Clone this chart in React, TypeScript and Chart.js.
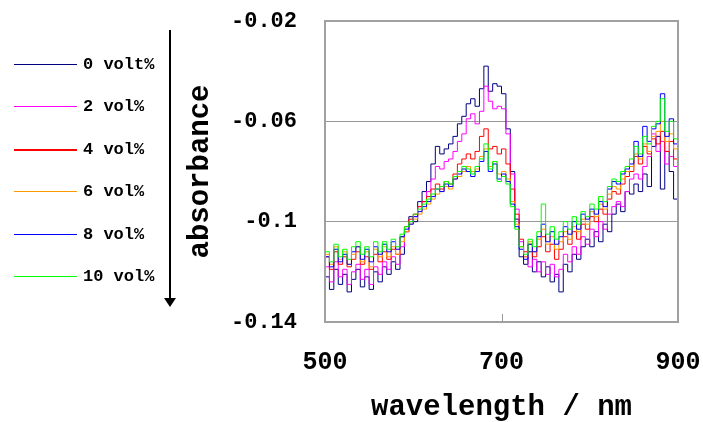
import React, { useEffect, useRef } from 'react';
import { Chart, registerables } from 'chart.js';

Chart.register(...registerables);

const FONT = '"Liberation Mono", "DejaVu Sans Mono", monospace';

const wavelengths = [
  500, 505, 510, 515, 520, 525, 530, 535, 540, 545,
  550, 555, 560, 565, 570, 575, 580, 585, 590, 595,
  600, 605, 610, 615, 620, 625, 630, 635, 640, 645,
  650, 655, 660, 665, 670, 675, 680, 685, 690, 695,
  700, 705, 710, 715, 720, 725, 730, 735, 740, 745,
  750, 755, 760, 765, 770, 775, 780, 785, 790, 795,
  800, 805, 810, 815, 820, 825, 830, 835, 840, 845,
  850, 855, 860, 865, 870, 875, 880, 885, 890, 895,
  900,
];

const vol0 = [
  -0.122, -0.127, -0.119, -0.125, -0.121, -0.128, -0.123, -0.119, -0.126, -0.122,
  -0.127, -0.120, -0.124, -0.118, -0.121, -0.116, -0.119, -0.113, -0.104, -0.098,
  -0.100, -0.092, -0.088, -0.084, -0.077, -0.070, -0.073, -0.071, -0.069, -0.066,
  -0.061, -0.058, -0.053, -0.051, -0.054, -0.047, -0.038, -0.048, -0.045, -0.046,
  -0.049, -0.063, -0.080, -0.099, -0.114, -0.117, -0.112, -0.120, -0.116, -0.122,
  -0.118, -0.124, -0.121, -0.128, -0.117, -0.120, -0.113, -0.115, -0.110, -0.107,
  -0.110, -0.104, -0.108, -0.101, -0.104, -0.097, -0.093, -0.096, -0.088, -0.089,
  -0.085, -0.088, -0.081, -0.086, -0.070, -0.066, -0.087, -0.072, -0.080, -0.091,
  -0.078,
];

const vol2 = [
  -0.118, -0.124, -0.116, -0.122, -0.119, -0.125, -0.120, -0.117, -0.123, -0.119,
  -0.125, -0.118, -0.121, -0.116, -0.119, -0.114, -0.117, -0.110, -0.104, -0.100,
  -0.098, -0.094, -0.092, -0.088, -0.083, -0.078, -0.079, -0.076, -0.075, -0.072,
  -0.068, -0.065, -0.059, -0.057, -0.061, -0.056, -0.046, -0.052, -0.055, -0.054,
  -0.055, -0.065, -0.081, -0.095, -0.108, -0.114, -0.118, -0.115, -0.120, -0.116,
  -0.121, -0.117, -0.122, -0.119, -0.113, -0.116, -0.110, -0.113, -0.106, -0.109,
  -0.103, -0.106, -0.100, -0.103, -0.097, -0.094, -0.092, -0.094, -0.088, -0.083,
  -0.081, -0.083, -0.078, -0.074, -0.065, -0.072, -0.068, -0.077, -0.074, -0.078,
  -0.075,
];

const vol4 = [
  -0.114, -0.119, -0.112, -0.117, -0.114, -0.118, -0.115, -0.112, -0.117, -0.114,
  -0.119, -0.113, -0.116, -0.112, -0.115, -0.111, -0.113, -0.106, -0.102, -0.099,
  -0.097, -0.094, -0.092, -0.090, -0.087, -0.085, -0.087, -0.084, -0.085, -0.081,
  -0.077, -0.075, -0.073, -0.075, -0.072, -0.066, -0.063, -0.071, -0.070, -0.073,
  -0.071, -0.077, -0.087, -0.097, -0.107, -0.112, -0.109, -0.114, -0.110, -0.106,
  -0.112, -0.109, -0.115, -0.111, -0.106, -0.109, -0.104, -0.107, -0.101, -0.103,
  -0.098, -0.100, -0.095, -0.097, -0.091, -0.088, -0.089, -0.085, -0.082, -0.080,
  -0.074, -0.077, -0.070, -0.073, -0.067, -0.069, -0.064, -0.072, -0.068, -0.075,
  -0.070,
];

const vol6 = [
  -0.113, -0.117, -0.110, -0.115, -0.112, -0.117, -0.113, -0.110, -0.116, -0.112,
  -0.118, -0.111, -0.114, -0.110, -0.114, -0.110, -0.113, -0.108, -0.104, -0.101,
  -0.099, -0.097, -0.095, -0.093, -0.091, -0.089, -0.088, -0.086, -0.087, -0.083,
  -0.082, -0.080, -0.078, -0.080, -0.079, -0.074, -0.071, -0.078, -0.076, -0.081,
  -0.080, -0.083, -0.092, -0.101, -0.110, -0.114, -0.108, -0.112, -0.107, -0.103,
  -0.109, -0.106, -0.111, -0.108, -0.104, -0.107, -0.102, -0.104, -0.099, -0.101,
  -0.096, -0.098, -0.093, -0.095, -0.089, -0.086, -0.087, -0.083, -0.080, -0.078,
  -0.073, -0.075, -0.069, -0.072, -0.066, -0.064, -0.060, -0.068, -0.065, -0.071,
  -0.066,
];

const vol8 = [
  -0.114, -0.118, -0.111, -0.116, -0.113, -0.117, -0.112, -0.110, -0.115, -0.111,
  -0.116, -0.110, -0.113, -0.109, -0.112, -0.108, -0.111, -0.106, -0.103, -0.101,
  -0.098, -0.096, -0.094, -0.092, -0.090, -0.087, -0.088, -0.085, -0.086, -0.083,
  -0.081, -0.079, -0.080, -0.082, -0.080, -0.076, -0.072, -0.080, -0.077, -0.083,
  -0.081, -0.084, -0.093, -0.102, -0.111, -0.115, -0.109, -0.112, -0.106, -0.101,
  -0.108, -0.104, -0.109, -0.106, -0.102, -0.105, -0.100, -0.103, -0.097, -0.099,
  -0.095, -0.097, -0.092, -0.094, -0.087, -0.084, -0.085, -0.081, -0.079, -0.077,
  -0.068, -0.074, -0.062, -0.068, -0.063, -0.061, -0.049, -0.066, -0.059, -0.069,
  -0.060,
];

const vol10 = [
  -0.112, -0.116, -0.109, -0.114, -0.111, -0.115, -0.110, -0.108, -0.113, -0.110,
  -0.114, -0.108, -0.112, -0.108, -0.111, -0.107, -0.110, -0.105, -0.102, -0.100,
  -0.097, -0.095, -0.093, -0.091, -0.089, -0.087, -0.086, -0.084, -0.085, -0.082,
  -0.080, -0.078, -0.079, -0.081, -0.078, -0.075, -0.069, -0.079, -0.076, -0.084,
  -0.082, -0.085, -0.094, -0.103, -0.110, -0.113, -0.107, -0.110, -0.104, -0.093,
  -0.105, -0.102, -0.107, -0.104, -0.100, -0.103, -0.098, -0.101, -0.096, -0.098,
  -0.093, -0.095, -0.090, -0.092, -0.086, -0.083, -0.084, -0.080, -0.078, -0.075,
  -0.070, -0.073, -0.066, -0.069, -0.062, -0.060, -0.051, -0.064, -0.060, -0.067,
  -0.062,
];

const seriesLabels = ['0 volt%', '2 vol%', '4 vol%', '6 vol%', '8 vol%', '10 vol%'];
const seriesValues = [vol0, vol2, vol4, vol6, vol8, vol10];
const seriesColors = ['#000080', '#FF00FF', '#FF0000', '#FF9900', '#0000FF', '#00FF00'];

const xTicks = [500, 700, 900];
const yTicks = [-0.14, -0.1, -0.06, -0.02];
const yTickLabels = ['-0.14', '-0.1', '-0.06', '-0.02'];

const xTitle = 'wavelength / nm';
const yTitle = 'absorbance';

const decorPlugin = {
  id: 'decor',
  afterDraw(chart: any) {
    const { ctx, chartArea: ca, scales } = chart;
    ctx.save();
    // plot frame
    ctx.strokeStyle = '#a0a0a0';
    ctx.lineWidth = 2;
    ctx.strokeRect(ca.left, ca.top, ca.right - ca.left, ca.bottom - ca.top);
    // inner tick at middle x value
    const xm = Math.round(scales.x.getPixelForValue(xTicks[1])) + 0.5;
    ctx.lineWidth = 1;
    ctx.strokeStyle = '#999999';
    ctx.beginPath();
    ctx.moveTo(xm, ca.bottom);
    ctx.lineTo(xm, ca.bottom - 8);
    ctx.stroke();

    // legend
    ctx.font = `bold 17px ${FONT}`;
    ctx.textBaseline = 'middle';
    ctx.textAlign = 'left';
    seriesLabels.forEach((label, i) => {
      const y = Math.round(64 + i * 42.4);
      ctx.fillStyle = seriesColors[i];
      ctx.fillRect(14, y, 63, i === 2 ? 2 : 1);
      ctx.fillStyle = '#000000';
      ctx.fillText(label, 83, y + 1);
    });

    // arrow
    ctx.strokeStyle = '#000000';
    ctx.fillStyle = '#000000';
    ctx.lineWidth = 2;
    ctx.beginPath();
    ctx.moveTo(170, 30);
    ctx.lineTo(170, 299);
    ctx.stroke();
    ctx.beginPath();
    ctx.moveTo(164, 298);
    ctx.lineTo(176, 298);
    ctx.lineTo(170, 307);
    ctx.closePath();
    ctx.fill();
    ctx.restore();
  },
};

export default function App() {
  const canvasRef = useRef<HTMLCanvasElement | null>(null);

  useEffect(() => {
    document.body.style.margin = '0';
    const canvas = canvasRef.current;
    if (!canvas) return;
    const datasets = seriesValues.map((vals, i) => ({
      label: seriesLabels[i],
      data: vals.map((v, j) => ({ x: wavelengths[j], y: v })),
      borderColor: seriesColors[i],
      backgroundColor: seriesColors[i],
      borderWidth: 1,
      pointRadius: 0,
      stepped: true,
      fill: false,
      order: seriesValues.length - i,
    }));
    const chart = new Chart(canvas, {
      type: 'line',
      data: { datasets },
      plugins: [decorPlugin],
      options: {
        animation: false,
        responsive: false,
        devicePixelRatio: 1,
        layout: { padding: { left: 0, right: 25, top: 21, bottom: 0 } },
        plugins: {
          legend: { display: false },
          tooltip: { enabled: false },
        },
        scales: {
          x: {
            type: 'linear',
            min: 500,
            max: 900,
            afterFit: (s: any) => {
              s.height = 100;
              s.paddingLeft = 0;
              s.paddingRight = 0;
            },
            afterBuildTicks: (s: any) => {
              s.ticks = xTicks.map((v) => ({ value: v }));
            },
            ticks: {
              color: '#000000',
              font: { family: FONT, size: 25, weight: 'bold' },
              padding: 26,
              maxRotation: 0,
              callback: (v: any) => String(v),
            },
            grid: { display: false, drawTicks: false },
            border: { display: false },
            title: {
              display: true,
              text: xTitle,
              color: '#000000',
              font: { family: FONT, size: 29, weight: 'bold', lineHeight: 1 },
              padding: { top: 0, bottom: 0 },
            },
          },
          y: {
            type: 'linear',
            min: -0.14,
            max: -0.02,
            afterFit: (s: any) => {
              s.width = 325;
              s.paddingTop = 0;
              s.paddingBottom = 0;
            },
            afterBuildTicks: (s: any) => {
              s.ticks = yTicks.map((v) => ({ value: v }));
            },
            ticks: {
              color: '#000000',
              font: { family: FONT, size: 22, weight: 'bold' },
              padding: 28,
              callback: (v: any) => {
                const idx = yTicks.findIndex((t) => Math.abs(t - v) < 1e-9);
                return idx >= 0 ? yTickLabels[idx] : '';
              },
            },
            grid: { color: '#999999', lineWidth: 1, drawTicks: false },
            border: { display: false },
            title: {
              display: true,
              text: yTitle,
              color: '#000000',
              font: { family: FONT, size: 29, weight: 'bold', lineHeight: 1 },
              padding: { top: 186, bottom: 0 },
            },
          },
        },
      },
    });
    return () => chart.destroy();
  }, []);

  return (
    <div style={{ position: 'absolute', left: 0, top: 0, width: 703, height: 422 }}>
      <canvas ref={canvasRef} width={703} height={422} style={{ display: 'block' }} />
    </div>
  );
}
